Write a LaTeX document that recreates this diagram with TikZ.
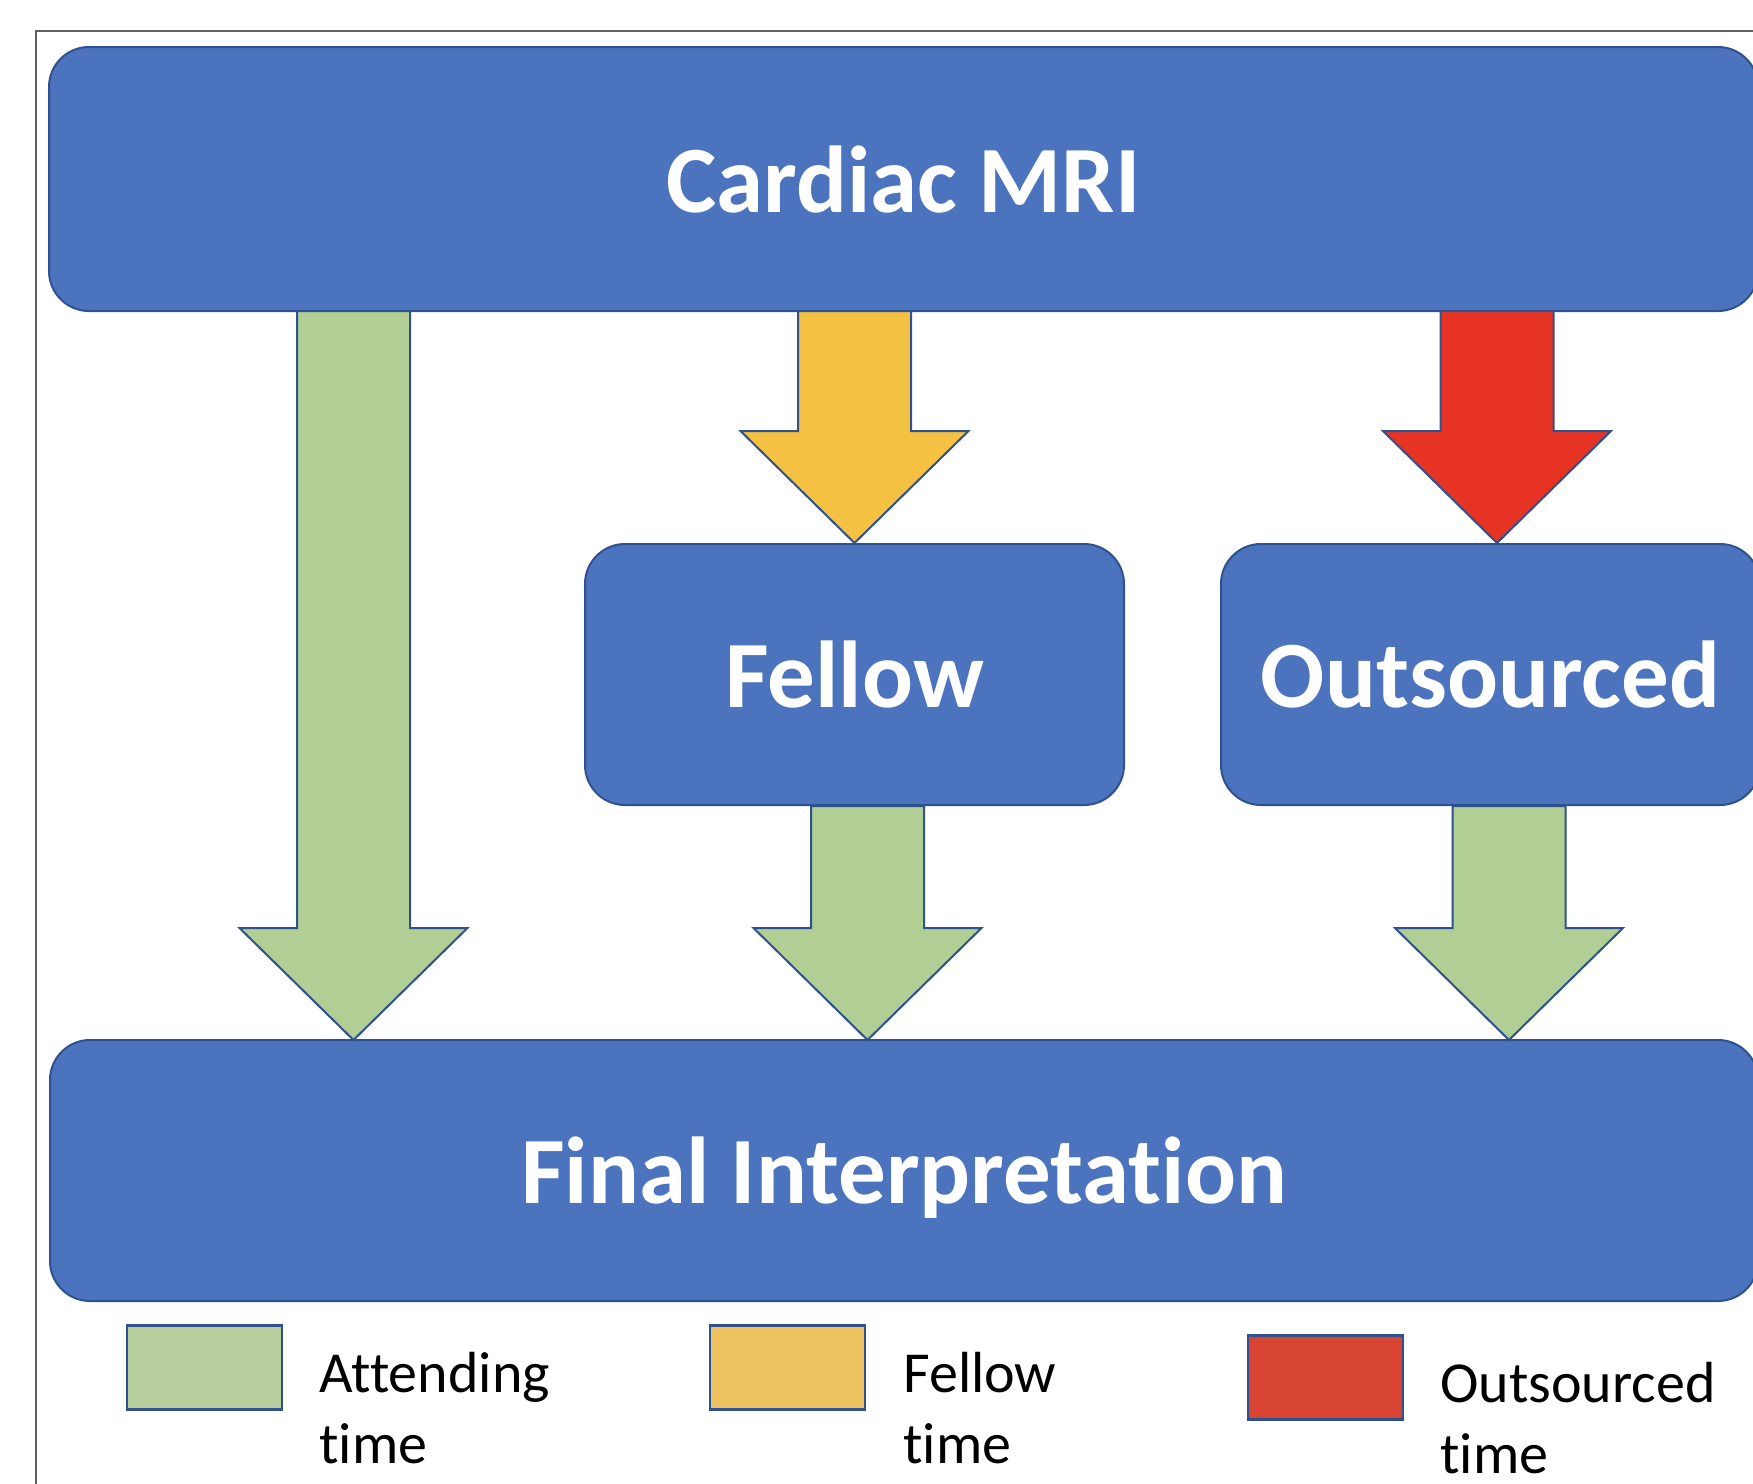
\documentclass[tikz,border=0pt]{standalone}
\usepackage{fontspec}
\setmainfont[Ligatures={NoCommon,NoRare,NoContextual}]{Carlito}
\definecolor{boxblue}{HTML}{4C73BD}
\definecolor{edgeblue}{HTML}{2F528F}
\definecolor{agreen}{HTML}{B1CE95}
\definecolor{ayellow}{HTML}{F4C142}
\definecolor{ared}{HTML}{E63323}
\definecolor{lgreen}{HTML}{B8CE9C}
\definecolor{lyellow}{HTML}{ECC25E}
\definecolor{lred}{HTML}{D74532}
\definecolor{framegray}{HTML}{606060}
\newcommand\blockarrow[4]{% center x, top y, tip y, colour
  \draw[arrowshape, fill=#4] (#1-56.5,#2) -- (#1+56.5,#2) -- (#1+56.5,#3-112) -- (#1+114,#3-112)
     -- (#1,#3) -- (#1-114,#3-112) -- (#1-56.5,#3-112) -- cycle;}
\begin{document}
\begin{tikzpicture}[x=0.5pt,y=-0.5pt,
  stage/.style={draw=edgeblue, line width=1pt, fill=boxblue, rounded corners=20pt,
     text=white, font=\bfseries\fontsize{47.5}{56}\selectfont, inner sep=0pt, text depth=0pt},
  arrowshape/.style={draw=edgeblue, line width=1pt, line join=miter},
  legbox/.style={draw=edgeblue, line width=1.2pt, minimum width=77.5pt, minimum height=42pt, inner sep=0pt},
  legtext/.style={anchor=base west, inner sep=0pt, font=\fontsize{29}{35}\selectfont}]
\useasboundingbox (0,0) rectangle (1753,1484);
\clip (0,0) rectangle (1753,1484);
\fill[white] (0,0) rectangle (1753,1484);
% frame
\draw[framegray, line width=0.8pt] (35.7,1490) -- (35.7,30.7) -- (1760,30.7);
% boxes
\node[stage, minimum width=854.5pt, minimum height=132pt] (cmri) at (903.5,179) {Cardiac MRI};
\node[stage, minimum width=269.5pt, minimum height=130.5pt] (fellow) at (854.5,674.5) {Fellow};
\node[stage, minimum width=269.5pt, minimum height=130.5pt] (outs) at (1490.5,674.5) {Outsourced};
\node[stage, minimum width=854pt, minimum height=130.5pt] (final) at (904,1170.5) {Final Interpretation};
% arrows
\blockarrow{353.5}{311}{1040}{agreen}
\blockarrow{854.5}{311}{543}{ayellow}
\blockarrow{1497}{311}{543}{ared}
\blockarrow{867.5}{806}{1040}{agreen}
\blockarrow{1509}{806}{1040}{agreen}
% legend
\node[legbox, fill=lgreen] (lg) at (204.5,1367.5) {};
\node[legbox, fill=lyellow] (ly) at (787.5,1367.5) {};
\node[legbox, fill=lred] (lr) at (1325.5,1377.5) {};
\node[legtext] (lg1) at (319,1392) {Attending};
\node[legtext] (lg2) at (319,1463) {time};
\node[legtext] (ly1) at (903,1392) {Fellow};
\node[legtext] (ly2) at (903,1463) {time};
\node[legtext] (lr1) at (1440,1402) {Outsourced};
\node[legtext] (lr2) at (1440,1473) {time};
\end{tikzpicture}
\end{document}
